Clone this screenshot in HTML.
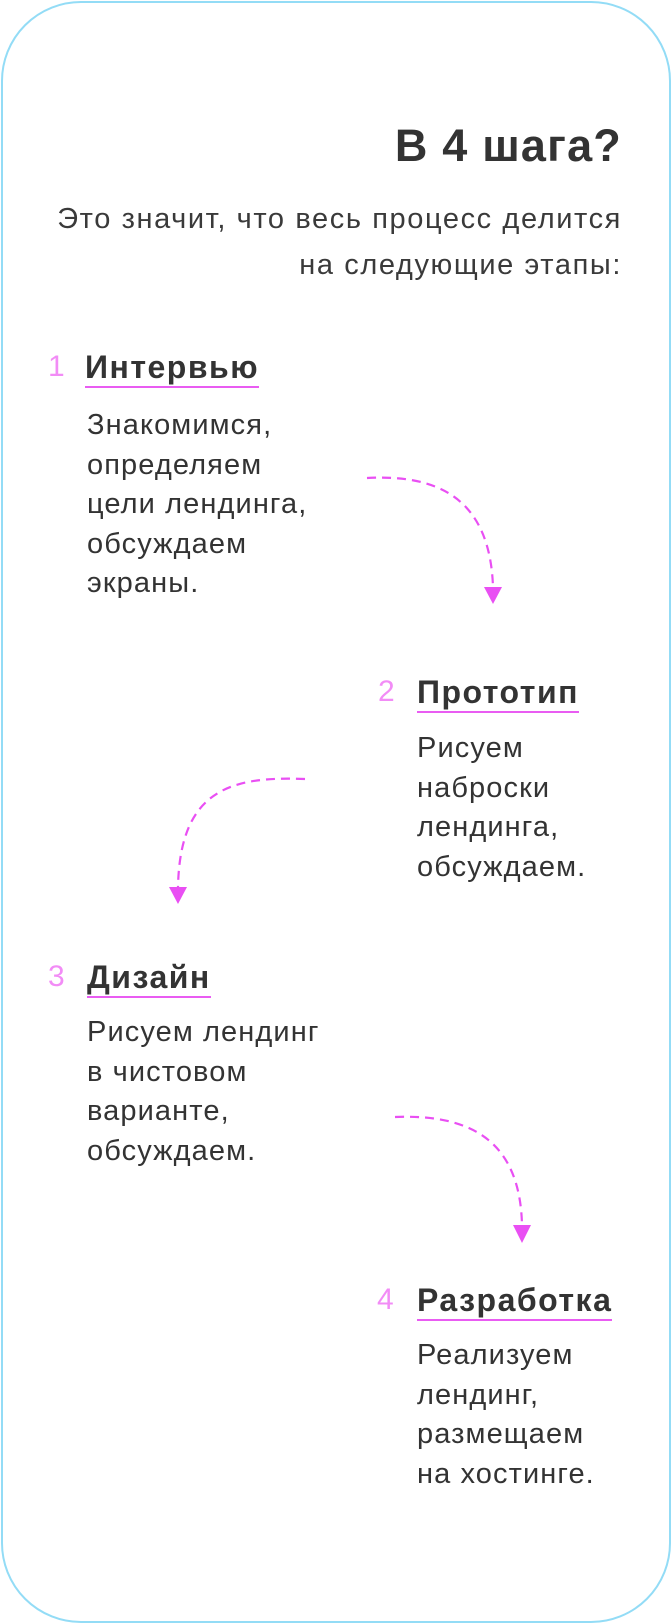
<!DOCTYPE html>
<html><head><meta charset="utf-8"><style>
html,body{margin:0;padding:0;background:#fff;}
body{width:672px;height:1624px;position:relative;overflow:hidden;font-family:"Liberation Sans",sans-serif;color:#333;}
.card{position:absolute;left:1px;top:1px;width:666px;height:1618px;border:2px solid #93dcf6;border-radius:80px;}
.abs{position:absolute;white-space:nowrap;}
.h1{right:50px;top:116px;font-size:45px;line-height:60px;font-weight:bold;letter-spacing:1.2px;}
.sub{right:50px;font-size:29px;line-height:46px;letter-spacing:1.6px;color:#3a3a3a;text-align:right;}
.num{font-size:30px;line-height:34px;color:#f28cf6;}
.tt{font-size:32px;line-height:34px;font-weight:bold;letter-spacing:1.5px;border-bottom:2px solid #e95cf2;padding-bottom:2px;}
.body{font-size:29px;line-height:39.5px;letter-spacing:1.1px;color:#333;}
</style></head><body>
<div class="card"></div>
<div class="abs h1">В 4 шага?</div>
<div class="abs sub" style="top:196px">Это значит, что весь процесс делится<br>на следующие этапы:</div>

<div class="abs num" style="left:48px;top:350px">1</div>
<div class="abs tt" style="left:85px;top:350px">Интервью</div>
<div class="abs body" style="left:87px;top:406px">Знакомимся,<br>определяем<br>цели лендинга,<br>обсуждаем<br>экраны.</div>

<div class="abs num" style="left:378px;top:675px">2</div>
<div class="abs tt" style="left:417px;top:675px">Прототип</div>
<div class="abs body" style="left:417px;top:729px">Рисуем<br>наброски<br>лендинга,<br>обсуждаем.</div>

<div class="abs num" style="left:48px;top:960px">3</div>
<div class="abs tt" style="left:87px;top:960px">Дизайн</div>
<div class="abs body" style="left:87px;top:1013px">Рисуем лендинг<br>в чистовом<br>варианте,<br>обсуждаем.</div>

<div class="abs num" style="left:377px;top:1283px">4</div>
<div class="abs tt" style="left:417px;top:1283px">Разработка</div>
<div class="abs body" style="left:417px;top:1336px">Реализуем<br>лендинг,<br>размещаем<br>на хостинге.</div>

<svg class="abs" style="left:0;top:0" width="672" height="1624">
<g fill="none" stroke="#e94ff3" stroke-width="2.2" stroke-dasharray="9 6">
<path d="M367 478 C 440 474, 490 500, 493 587"/>
<path d="M305 779 C 230 776, 180 790, 178 887"/>
<path d="M395 1117 C 470 1114, 520 1140, 522 1225"/>
</g>
<g fill="#e94ff3">
<polygon points="484,587 502,587 493,604"/>
<polygon points="169,887 187,887 178,904"/>
<polygon points="513,1225 531,1225 522,1243"/>
</g>
</svg>
</body></html>
